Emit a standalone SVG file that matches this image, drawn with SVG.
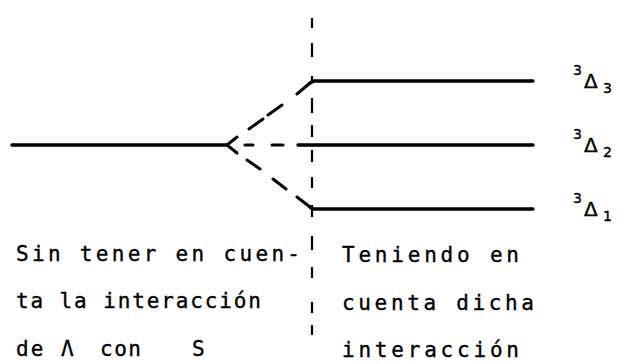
<svg xmlns="http://www.w3.org/2000/svg" width="619" height="364" viewBox="0 0 619 364">
<style>
.lvl{stroke:#000;stroke-width:3.4;fill:none;stroke-linecap:round}
.dash{stroke:#000;stroke-width:3;fill:none;stroke-linecap:round}
.vdash{stroke:#000;stroke-width:2.2;fill:none}
.txt{font-family:"DejaVu Sans Mono","Liberation Mono",monospace;font-size:21px;fill:#000;stroke:#000;stroke-width:0.35}
.lab{font-family:"DejaVu Sans","Liberation Sans",sans-serif;fill:#000;stroke:#000;stroke-width:0.4}
</style>
<rect width="619" height="364" fill="#fff"/>
<g id="connectors">
  <path class="vdash" d="M312 18V28M312 43V57M312 76V83M312 98V113M312 125V137M312 150V162M312 177V188M312 205V217M312 236V250M312 267V278M312 302V313M312 325V335"/>
  <path class="dash" d="M237 137L227 145L237 153"/>
  <path class="dash" d="M249 129L263 119M268 115L282 105M297 94L310 83"/>
  <path class="dash" d="M247 160L260 169M273 179L286 189M297 197L310 207"/>
  <path class="dash" d="M245 145H253M272 145H283"/>
</g>
<g id="level-unsplit">
  <path class="lvl" d="M12 145H227"/>
</g>
<g id="level-3D3">
  <path class="lvl" d="M310 83L314 81H533"/>
  <text class="lab" x="573" y="75" font-size="14">3</text>
  <text class="lab" x="584" y="88" font-size="20">Δ</text>
  <text class="lab" x="603" y="93" font-size="14">3</text>
</g>
<g id="level-3D2">
  <path class="lvl" d="M298 145H533"/>
  <text class="lab" x="573" y="139" font-size="14">3</text>
  <text class="lab" x="584" y="152" font-size="20">Δ</text>
  <text class="lab" x="603" y="157" font-size="14">2</text>
</g>
<g id="level-3D1">
  <path class="lvl" d="M310 207L313 209H533"/>
  <text class="lab" x="573" y="203" font-size="14">3</text>
  <text class="lab" x="584" y="216" font-size="20">Δ</text>
  <text class="lab" x="603" y="221" font-size="14">1</text>
</g>
<g id="caption-left">
  <text class="txt" x="16" y="261" textLength="284" lengthAdjust="spacing">Sin tener en cuen-</text>
  <text class="txt" x="16" y="308" textLength="245" lengthAdjust="spacing">ta la interacción</text>
  <text class="txt" y="356"><tspan x="16" letter-spacing="2">de</tspan><tspan x="61">Λ</tspan><tspan x="100" letter-spacing="1.5">con</tspan><tspan x="192">S</tspan></text>
</g>
<g id="caption-right">
  <text class="txt" x="342" y="262" textLength="177" lengthAdjust="spacing">Teniendo en</text>
  <text class="txt" x="342" y="310" textLength="192" lengthAdjust="spacing">cuenta dicha</text>
  <text class="txt" x="342" y="357" textLength="177" lengthAdjust="spacing">interacción</text>
</g>
</svg>
